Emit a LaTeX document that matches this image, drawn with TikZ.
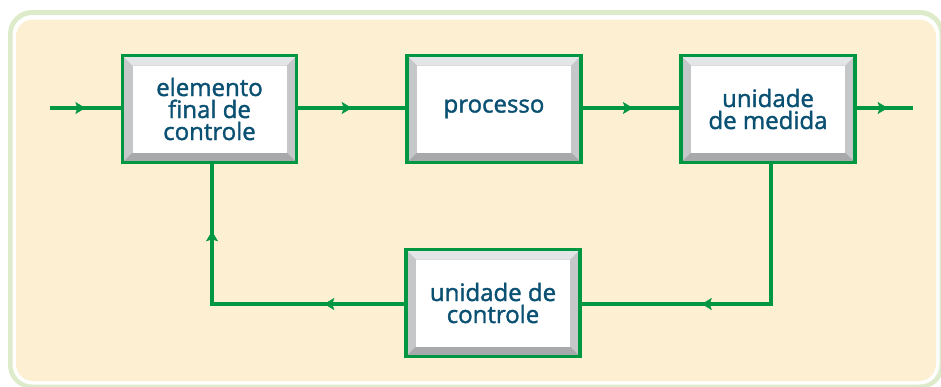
\documentclass[tikz,border=0pt]{standalone}
\usepackage{fontspec}
\newfontfamily\labelfont[RawFeature={embolden=1.5}]{Open Sans}
\usetikzlibrary{arrows.meta,decorations.markings}
\definecolor{gGreen}{RGB}{0,151,66}
\definecolor{frameGreen}{RGB}{221,235,203}
\definecolor{cream}{RGB}{253,239,210}
\definecolor{txt}{RGB}{10,80,115}
\definecolor{bevTop}{RGB}{228,229,230}
\definecolor{bevSide}{RGB}{198,199,201}
\definecolor{bevBot}{RGB}{168,169,171}
\tikzset{
  blockbox/.style={draw=gGreen, line width=3.5pt, minimum width=174pt, minimum height=107pt,
    inner sep=0pt, align=center, text=txt, font=\labelfont\fontsize{24}{22}\selectfont,
    path picture={
      \fill[bevSide] (path picture bounding box.south west) rectangle (path picture bounding box.north east);
      \fill[bevTop] (path picture bounding box.north west) -- (path picture bounding box.north east)
        -- ([shift={(-10pt,-10pt)}]path picture bounding box.north east)
        -- ([shift={(10pt,-10pt)}]path picture bounding box.north west) -- cycle;
      \fill[bevBot] (path picture bounding box.south west) -- (path picture bounding box.south east)
        -- ([shift={(-10pt,10pt)}]path picture bounding box.south east)
        -- ([shift={(10pt,10pt)}]path picture bounding box.south west) -- cycle;
      \fill[white] ([shift={(10pt,10pt)}]path picture bounding box.south west)
        rectangle ([shift={(-10pt,-10pt)}]path picture bounding box.north east);
    }},
  conn/.style={draw=gGreen, line width=4pt, line join=miter},
  tipmark/.style={postaction={decorate}, decoration={markings,
    mark=at position #1 with {\arrow[line width=0.5pt]{Stealth[length=10pt,width=12pt,inset=2pt]}}}},
}
\begin{document}
\begin{tikzpicture}[x=1pt,y=-1pt]
\useasboundingbox (0,0) rectangle (941,386);
\begin{scope}
\clip (0,0) rectangle (941,386);
\fill[frameGreen, rounded corners=24pt] (8,10) rectangle (944,389);
\fill[white, rounded corners=20pt] (12.5,15) rectangle (939.5,384.5);
\fill[cream, rounded corners=17pt] (16,19.5) rectangle (936,381);
\end{scope}

\node[blockbox] (efc) at (209.5,109) {elemento\\final de\\controle};
\node[blockbox] (proc) at (494,109) {\raisebox{6pt}{processo}};
\node[blockbox] (um) at (768,109) {unidade\\de medida};
\node[blockbox] (uc) at (493,303) {unidade de\\controle};

\coordinate (in) at (50,108);
\coordinate (out) at (913,108);

\draw[conn, tipmark=0.5] (in) -- (in -| efc.west);
\draw[conn, tipmark=0.5] (efc.east |- in) -- (proc.west |- in);
\draw[conn, tipmark=0.52] (proc.east |- in) -- (um.west |- in);
\draw[conn, tipmark=0.55] (um.east |- in) -- (out);
\draw[conn, tipmark=209pt] ([xshift=3pt]um.south) |- ([yshift=-1pt]uc.east);
\draw[conn, tipmark=80pt] ([yshift=-1pt]uc.west) -| ([xshift=2.5pt]efc.south);
\draw[conn, tipmark=265pt] ([yshift=-1pt]uc.west) -| ([xshift=2.5pt]efc.south);
\end{tikzpicture}
\end{document}
